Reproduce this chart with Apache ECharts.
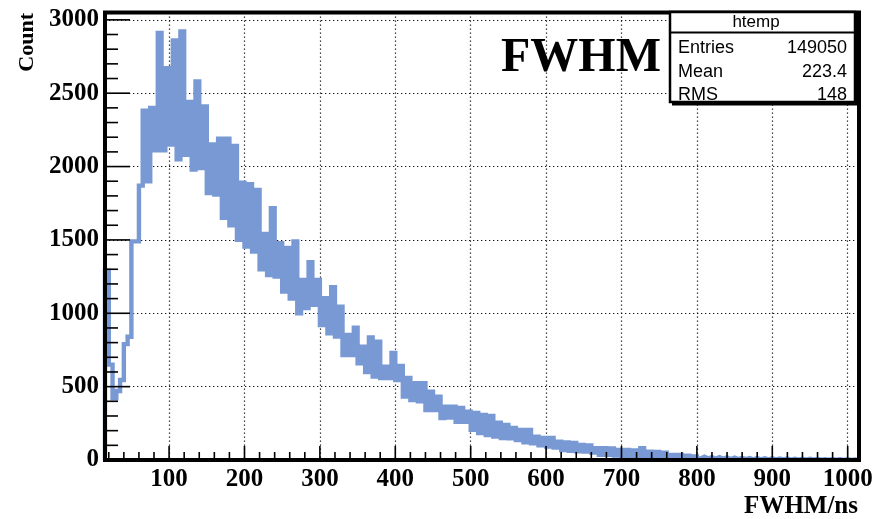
<!DOCTYPE html>
<html>
<head>
<meta charset="utf-8">
<script src="https://cdn.jsdelivr.net/npm/echarts@6/dist/echarts.min.js"></script>
<style>
html, body { margin: 0; padding: 0; background: #fff; }
#chart { width: 876px; height: 519px; }
</style>
</head>
<body>
<div id="chart"></div>
<script>
// histogram bins: left edge of first bin and bin width (ns)
const binStart = 15;
const binWidth = 5;
const counts = [
    1290, 650, 420, 470, 545, 790, 840, 1490, 1490, 1870,
    2380, 1900, 2400, 2110, 2910, 2110, 2670, 2150, 2860, 2050,
    2920, 2080, 2440, 1980, 2580, 1990, 2410, 1820, 2150, 1810,
    2190, 1650, 2190, 1600, 2140, 1500, 1890, 1455, 1880, 1420,
    1840, 1300, 1540, 1260, 1716, 1250, 1477, 1148, 1445, 1100,
    1489, 1000, 1227, 1036, 1348, 1057, 1227, 920, 1102, 864,
    1177, 841, 1045, 716, 852, 716, 902, 659, 773, 600,
    836, 568, 807, 559, 636, 559, 730, 545, 641, 432,
    560, 409, 523, 400, 523, 341, 466, 341, 432, 286,
    363, 290, 363, 261, 355, 261, 330, 205, 320, 184,
    307, 170, 300, 159, 254, 150, 239, 148, 218, 136,
    205, 120, 205, 114, 159, 100, 150, 91, 150, 85,
    125, 68, 120, 62, 116, 60, 102, 57, 100, 50,
    80, 35, 80, 35, 78, 30, 68, 25, 68, 25,
    65, 25, 80, 25, 57, 20, 55, 18, 50, 15,
    34, 12, 34, 12, 30, 10, 25, 10, 22, 10,
    20, 8, 20, 8, 18, 7, 16, 6, 15, 6,
    14, 5, 13, 5, 12, 4, 11, 4, 10, 4,
    10, 3, 9, 3, 8, 3, 8, 2, 7, 2,
    6, 2, 6, 2, 5, 1, 5, 1, 4, 1
];
const xTicks = [100, 200, 300, 400, 500, 600, 700, 800, 900, 1000];
const yTicks = [0, 500, 1000, 1500, 2000, 2500, 3000];
const statRows = [['Entries', '149050'], ['Mean', '223.4'], ['RMS', '148']];

const xMin = 15, xMax = 1015, yMax = 3050;

const xMinorTicks = [];
for (let v = 20; v < xMax; v += 20) if (v % 100) xMinorTicks.push(v);
const yMinorTicks = [];
for (let v = 100; v < yMax; v += 100) if (v % 500) yMinorTicks.push(v);

// step outline of the histogram, starting and ending on the axis
const histData = [[binStart, 0]];
counts.forEach((c, i) => histData.push([binStart + i * binWidth, c]));
histData.push([binStart + counts.length * binWidth, 0]);

const serif = 'Liberation Serif';
const sans = 'Liberation Sans';
const dotted = { color: '#111', width: 1.2, type: [1.3, 2.7] };
const labelFont = { color: '#000', fontFamily: serif, fontWeight: 'bold', fontSize: 25,
    formatter: v => String(v) };
const gridBox = { left: 105, right: 17, top: 12.5, bottom: 59 };

const chart = echarts.init(document.getElementById('chart'));
chart.setOption({
    animation: false,
    backgroundColor: '#fff',
    grid: Object.assign({ show: true, z: 3, backgroundColor: 'transparent',
        borderColor: '#000', borderWidth: 4 }, gridBox),
    xAxis: {
        type: 'value', min: xMin, max: xMax,
        axisLine: { show: false },
        axisTick: { show: false, customValues: xTicks },
        axisLabel: Object.assign({ margin: 7, customValues: xTicks }, labelFont),
        splitLine: { show: true, lineStyle: dotted }
    },
    yAxis: {
        type: 'value', min: 0, max: yMax,
        axisLine: { show: false },
        axisTick: { show: false, customValues: yTicks },
        axisLabel: Object.assign({ margin: 6, customValues: yTicks }, labelFont),
        splitLine: { show: true, lineStyle: dotted }
    },
    series: [{
        type: 'line',
        step: 'end',
        data: histData,
        symbol: 'none',
        z: 2,
        lineStyle: { color: '#7899d4', width: 4.4, join: 'miter', cap: 'butt' }
    }]
});

// pixel position of a data point, via the chart's own scale
function toPixel(point) {
    let p = null;
    try { p = chart.convertToPixel({ xAxisIndex: 0, yAxisIndex: 0 }, point); } catch (e) { p = null; }
    if (!p || !isFinite(p[0]) || !isFinite(p[1])) {
        try { p = chart.convertToPixel('grid', point); } catch (e) { p = null; }
    }
    if (!p || !isFinite(p[0]) || !isFinite(p[1])) {
        const w = chart.getWidth() - gridBox.left - gridBox.right;
        const h = chart.getHeight() - gridBox.top - gridBox.bottom;
        p = [gridBox.left + (point[0] - xMin) / (xMax - xMin) * w,
             gridBox.top + h - point[1] / yMax * h];
    }
    return p;
}

// ROOT style ticks inside the frame
function tick(point, dx, dy) {
    const p = toPixel(point);
    return { type: 'line', z: 20, silent: true,
        shape: { x1: p[0], y1: p[1], x2: p[0] + dx, y2: p[1] + dy },
        style: { stroke: '#000', lineWidth: 1.6 } };
}
const ticks = [];
xTicks.forEach(v => ticks.push(tick([v, 0], 0, -14)));
xMinorTicks.forEach(v => ticks.push(tick([v, 0], 0, -8)));
yTicks.forEach(v => ticks.push(tick([xMin, v], 25, 0)));
yMinorTicks.forEach(v => ticks.push(tick([xMin, v], 13, 0)));

// stats box in the top right corner
const box = { x: 670, y: 12, w: 185, h: 90 };
const statsGraphic = [
    { type: 'rect', z: 30, shape: { x: box.x, y: box.y, width: box.w, height: box.h },
      style: { fill: '#fff', stroke: '#000', lineWidth: 2.5 } },
    { type: 'polyline', z: 30,
      shape: { points: [[box.x + box.w + 2, box.y + 2], [box.x + box.w + 2, box.y + box.h + 2], [box.x + 2, box.y + box.h + 2]] },
      style: { stroke: '#000', lineWidth: 3, fill: null } },
    { type: 'line', z: 30, shape: { x1: box.x, y1: 32.5, x2: box.x + box.w, y2: 32.5 },
      style: { stroke: '#000', lineWidth: 2 } },
    { type: 'text', z: 31, x: 756, y: 22,
      style: { text: 'htemp', font: '17px ' + sans, fill: '#000', align: 'center', verticalAlign: 'middle' } }
];
statRows.forEach((row, i) => {
    const y = 48 + i * 23.7;
    statsGraphic.push(
        { type: 'text', z: 31, x: 678, y: y,
          style: { text: row[0], font: '18px ' + sans, fill: '#000', align: 'left', verticalAlign: 'middle' } },
        { type: 'text', z: 31, x: 847, y: y,
          style: { text: row[1], font: '18px ' + sans, fill: '#000', align: 'right', verticalAlign: 'middle' } }
    );
});

const titles = [
    { type: 'text', x: 27.5, y: 13, rotation: Math.PI / 2,
      style: { text: 'Count', font: 'bold 22px ' + serif, fill: '#000', align: 'right', verticalAlign: 'middle' } },
    { type: 'text', x: 858, y: 506.5,
      style: { text: 'FWHM/ns', font: 'bold 25px ' + serif, fill: '#000', align: 'right', verticalAlign: 'middle' } },
    { type: 'text', x: 501, y: 58.5,
      style: { text: 'FWHM', font: 'bold 48px ' + serif, fill: '#000', align: 'left', verticalAlign: 'middle' } }
];

chart.setOption({ graphic: { elements: ticks.concat(titles, statsGraphic) } });
</script>
</body>
</html>
